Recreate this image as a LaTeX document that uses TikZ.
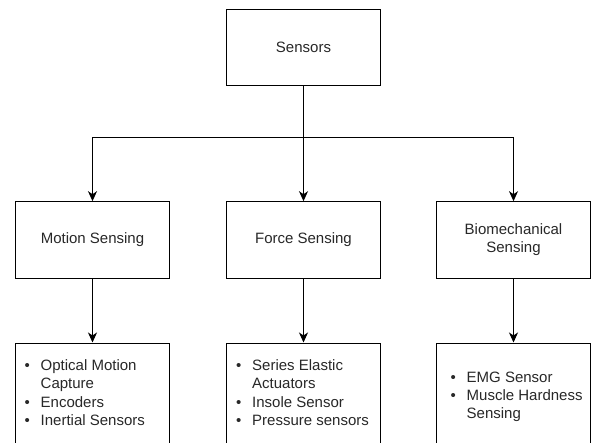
\documentclass[tikz,border=0pt]{standalone}
\usepackage{fontspec}
\setmainfont{Liberation Sans}
\usetikzlibrary{arrows.meta}
\definecolor{txt}{RGB}{40,40,40}
\tikzset{
  box/.style={draw=black, line width=1.1pt, minimum width=153.5pt, minimum height=76.5pt, inner sep=0pt, text=txt, align=center, font=\fontsize{15}{18}\selectfont},
  listbox/.style={draw=black, line width=1.1pt, minimum width=153.5pt, minimum height=140pt, inner sep=0pt, anchor=north},
  conn/.style={line width=1.1pt, -{Stealth[length=10pt,width=9pt,inset=3pt]}},
  line/.style={line width=1.1pt},
  li/.style={anchor=base west, inner sep=0pt, text=txt, font=\fontsize{15}{18}\selectfont},
}
\newcommand{\bul}{\makebox[16pt][l]{\textbullet}}
\newcommand{\nob}{\hspace*{16pt}}
\begin{document}
\begin{tikzpicture}[x=1pt,y=-1pt]
\clip (0,0) rectangle (591,443);
\fill[white] (0,0) rectangle (591,443);
\node[box] (sensors) at (303.5,47.5) {Sensors};
\node[box] (motion) at (92.5,240) {Motion Sensing};
\node[box] (force) at (303.5,240) {Force Sensing};
\node[box] (bio) at (513.5,240) {Biomechanical\\Sensing};
\coordinate (j) at (303.5,137.5);
\draw[line] (sensors) -- (j);
\draw[conn] (j) -- (force);
\draw[conn] (j) -| (motion);
\draw[conn] (j) -| (bio);
\node[listbox] (mlist) at (92.5,342.5) {};
\node[listbox] (flist) at (303.5,342.5) {};
\node[listbox] (blist) at (513.5,342.5) {};
\draw[conn] (motion) -- (mlist);
\draw[conn] (force) -- (flist);
\draw[conn] (bio) -- (blist);
% motion list
\node[li] (m1) at (24.5,370) {\bul Optical Motion};
\node[li] (m2) at (24.5,388) {\nob Capture};
\node[li] (m3) at (24.5,407) {\bul Encoders};
\node[li] (m4) at (24.5,425) {\bul Inertial Sensors};
% force list
\node[li] (f1) at (236,370) {\bul Series Elastic};
\node[li] (f2) at (236,388) {\nob Actuators};
\node[li] (f3) at (236,407) {\bul Insole Sensor};
\node[li] (f4) at (236,425) {\bul Pressure sensors};
% bio list
\node[li] (b1) at (450.5,382) {\bul EMG Sensor};
\node[li] (b2) at (450.5,400) {\bul Muscle Hardness};
\node[li] (b3) at (450.5,418) {\nob Sensing};
\end{tikzpicture}
\end{document}
